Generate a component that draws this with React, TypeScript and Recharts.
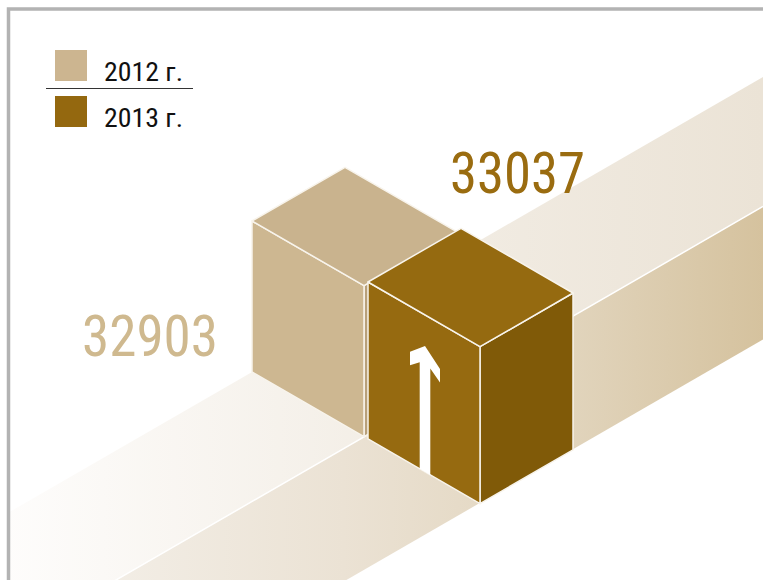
import { BarChart, Bar, XAxis, YAxis, LabelList } from "recharts";

const YEARS = ["2012 г.", "2013 г."];
const VALUES = [32903, 33037];
const TOP_COLORS = ["#c9b38e", "#956a10"];
const LEFT_COLORS = ["#cdb791", "#966a10"];
const RIGHT_COLORS = ["#b8a07a", "#805a08"];
const LABEL_COLORS = ["#cfb98f", "#9a6c10"];
const LEGEND_COLORS = ["#ccb590", "#94680f"];

const data = YEARS.map((year, i) => ({ year, value: VALUES[i] }));

const W = 763;
const H = 580;
const T = Math.tan(Math.PI / 6);
const MARGIN = { top: 194.5, right: 281, bottom: 208, left: 250 };
const CAT_GAP = 2;
const FIRST_BAR_X = MARGIN.left + CAT_GAP;
const DEPTH = 93;
const FONT = "'Liberation Sans Narrow', 'Roboto Condensed', 'Liberation Sans', Arial, sans-serif";

const pts = (arr: number[][]) => arr.map((p) => p.join(",")).join(" ");

// isometric box drawn from the bar's rectangle
const IsoBox = (props: any) => {
  const { x, y, width: w, height: h, index } = props;
  const s = (x - FIRST_BAR_X) * T;
  const top = y + s;
  const bot = y + h + s;
  const dy = DEPTH * T;
  const wy = w * T;
  const edge = { stroke: "#f8f4ec", strokeWidth: 1.5, strokeLinejoin: "round" as const };
  const face = (a: number, b: number) => [x + a, top + a * T + b];
  const arrow = [
    face(57, 31), face(72, 45.5), face(72, 59), face(62.3, 50.5), face(62.3, h),
    face(51.7, h), face(51.7, 50.5), face(42, 59), face(42, 45.5),
  ];
  return (
    <g>
      <polygon points={pts([[x + w, top + wy], [x + w + DEPTH, top + wy - dy], [x + w + DEPTH, bot + wy - dy], [x + w, bot + wy]])} fill={RIGHT_COLORS[index]} {...edge} />
      <polygon points={pts([[x, top], [x + w, top + wy], [x + w, bot + wy], [x, bot]])} fill={LEFT_COLORS[index]} {...edge} />
      <polygon points={pts([[x, top], [x + DEPTH, top - dy], [x + w + DEPTH, top + wy - dy], [x + w, top + wy]])} fill={TOP_COLORS[index]} {...edge} />
      {index === 1 && <polygon points={pts(arrow)} fill="#ffffff" />}
    </g>
  );
};

const ValueLabel = (props: any) => {
  const { x, y, width: w, height: h, index, value } = props;
  const s = (x - FIRST_BAR_X) * T;
  if (index === 0) {
    return (
      <text x={x - 34} y={y + h + s - 16} textAnchor="end" fill={LABEL_COLORS[0]}
        fontFamily={FONT} fontSize={57} textLength={136} lengthAdjust="spacingAndGlyphs">
        {value}
      </text>
    );
  }
  return (
    <text x={x + 82} y={y + s - DEPTH * T - 35} fill={LABEL_COLORS[1]}
      fontFamily={FONT} fontSize={57} textLength={135} lengthAdjust="spacingAndGlyphs">
      {value}
    </text>
  );
};

// band lines: y = y0 - (x - x0) * T
const lineY = (x0: number, y0: number, x: number) => y0 - (x - x0) * T;
const UPPER = [252, 372];
const CREASE = [362, 438];
const BOTTOM = [362, 571];

const Background = () => {
  const xl = 10;
  const xr = W;
  const up = (x: number) => lineY(UPPER[0], UPPER[1], x);
  const cr = (x: number) => lineY(CREASE[0], CREASE[1], x);
  const bt = (x: number) => lineY(BOTTOM[0], BOTTOM[1], x);
  return (
    <svg width={W} height={H} style={{ position: "absolute", left: 0, top: 0 }}>
      <defs>
        <linearGradient id="bandTop" gradientUnits="userSpaceOnUse" x1={0} y1={0} x2={W} y2={0}>
          <stop offset="0" stopColor="#fefdfc" />
          <stop offset="0.5" stopColor="#f3eee6" />
          <stop offset="1" stopColor="#ebe3d6" />
        </linearGradient>
        <linearGradient id="bandFront" gradientUnits="userSpaceOnUse" x1={0} y1={0} x2={W} y2={0}>
          <stop offset="0" stopColor="#f6f3ee" />
          <stop offset="0.45" stopColor="#ebe2d4" />
          <stop offset="0.75" stopColor="#e1d4bc" />
          <stop offset="1" stopColor="#d5c29e" />
        </linearGradient>
      </defs>
      <polygon points={pts([[xl, up(xl)], [xr, up(xr)], [xr, cr(xr)], [xl, cr(xl)]])} fill="url(#bandTop)" />
      <polygon points={pts([[xl, cr(xl)], [xr, cr(xr)], [xr, bt(xr)], [xl, bt(xl)]])} fill="url(#bandFront)" />
      <line x1={xl} y1={cr(xl)} x2={xr} y2={cr(xr)} stroke="#ffffff" strokeWidth={1.5} />
      <path d={`M 8.5 ${H} V 9 H ${W}`} fill="none" stroke="#b3b3b3" strokeWidth={3.5} />
    </svg>
  );
};

const LegendBlock = () => (
  <svg width={W} height={H} style={{ position: "absolute", left: 0, top: 0, pointerEvents: "none" }}>
    {YEARS.map((year, i) => (
      <g key={year}>
        <rect x={55} y={50 + i * 46} width={32} height={31} fill={LEGEND_COLORS[i]} />
        <text x={104} y={81 + i * 46} fontFamily={FONT} fontSize={26} fill="#111"
          textLength={79} lengthAdjust="spacingAndGlyphs">
          {year}
        </text>
      </g>
    ))}
    <line x1={46} y1={88.5} x2={193} y2={88.5} stroke="#333" strokeWidth={1} />
  </svg>
);

export default function App() {
  return (
    <div style={{ position: "absolute", left: 0, top: 0, width: W, height: H, background: "#fff", overflow: "hidden" }}>
      <Background />
      <div style={{ position: "absolute", left: 0, top: 0 }}>
        <BarChart width={W} height={H} data={data} margin={MARGIN} barCategoryGap={CAT_GAP}>
          <XAxis dataKey="year" hide />
          <YAxis hide domain={[29500, 33500]} />
          <Bar dataKey="value" shape={IsoBox} isAnimationActive={false}>
            <LabelList dataKey="value" content={ValueLabel} />
          </Bar>
        </BarChart>
      </div>
      <LegendBlock />
    </div>
  );
}
